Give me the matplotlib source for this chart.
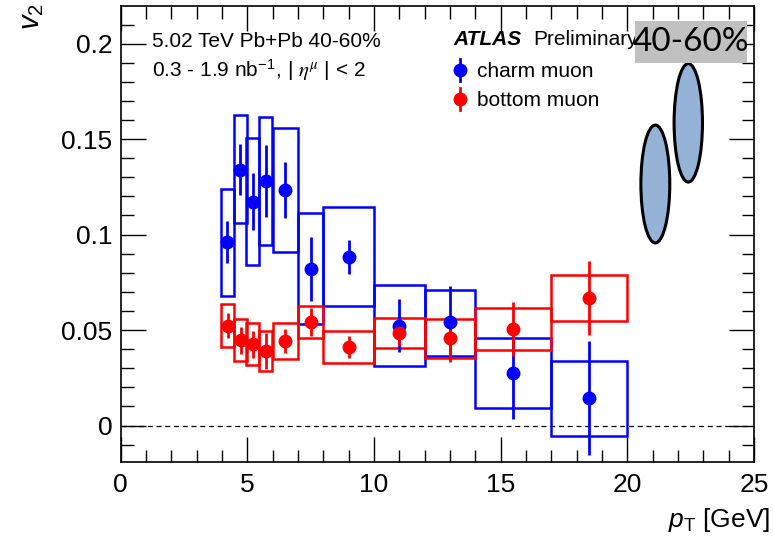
import matplotlib
matplotlib.use("Agg")
import matplotlib.pyplot as plt
from matplotlib.patches import Rectangle, Ellipse
from matplotlib.ticker import MultipleLocator

plt.rcParams['font.family'] = ['Liberation Sans', 'DejaVu Sans']
plt.rcParams['mathtext.fontset'] = 'custom'
plt.rcParams['mathtext.rm'] = 'Liberation Sans'
plt.rcParams['mathtext.it'] = 'Liberation Sans:italic'

# pT bins (box edges) and bin centres
bin_lo = [3.95, 4.47, 4.97, 5.47, 6.0, 7.0, 8.0, 10.0, 12.0, 14.0, 17.0]
bin_hi = [4.47, 4.99, 5.48, 5.98, 7.0, 8.0, 10.0, 12.0, 14.0, 17.0, 20.0]
pt_charm = [4.22, 4.73, 5.23, 5.73, 6.5, 7.5, 9.0, 11.0, 13.0, 15.5, 18.5]
pt_bottom = [4.25, 4.74, 5.24, 5.74, 6.5, 7.5, 9.0, 11.0, 13.0, 15.5, 18.5]

# charm muon v2, stat error, systematic box low/high
v2_charm = [0.0959, 0.134, 0.1172, 0.128, 0.1233, 0.0821, 0.0884, 0.0523, 0.054, 0.0275, 0.0144]
stat_charm = [0.011, 0.0135, 0.015, 0.019, 0.0145, 0.0167, 0.009, 0.014, 0.019, 0.024, 0.030]
sys_lo_charm = [0.068, 0.106, 0.0842, 0.0947, 0.0907, 0.053, 0.0626, 0.031, 0.0363, 0.0093, -0.0053]
sys_hi_charm = [0.1237, 0.1626, 0.1505, 0.1614, 0.1558, 0.1114, 0.1142, 0.0735, 0.0712, 0.046, 0.0338]

# bottom muon v2
v2_bottom = [0.0523, 0.0447, 0.0426, 0.0391, 0.0444, 0.054, 0.0412, 0.0486, 0.0456, 0.0504, 0.0667]
stat_bottom = [0.0066, 0.007, 0.007, 0.0095, 0.0062, 0.0073, 0.0056, 0.007, 0.0125, 0.0142, 0.0195]
sys_lo_bottom = [0.0412, 0.0337, 0.0316, 0.0286, 0.0346, 0.0456, 0.0328, 0.0404, 0.0356, 0.0395, 0.0547]
sys_hi_bottom = [0.0635, 0.0556, 0.0535, 0.0495, 0.0539, 0.0626, 0.0496, 0.0565, 0.0556, 0.0614, 0.0791]

# ellipses in the corner (centre x, centre y, width, height)
ell_x = [21.1, 22.4]
ell_y = [0.1265, 0.1585]
ell_w = [1.14, 1.12]
ell_h = [0.0617, 0.062]

fig = plt.figure(figsize=(7.74, 5.44), dpi=100)
ax = fig.add_axes([0.1557, 0.151, 0.8187, 0.838])
ax.set_xlim(0, 25)
ax.set_ylim(-0.019, 0.2197)

ax.axhline(0, color='black', lw=0.9, ls=(0, (4, 3)))

def draw_series(pt, v2, stat, lo, hi, color):
    for xl, xh, yl, yh in zip(bin_lo, bin_hi, lo, hi):
        ax.add_patch(Rectangle((xl, yl), xh - xl, yh - yl, fill=False,
                               edgecolor=color, lw=1.8, zorder=3))
    ax.errorbar(pt, v2, yerr=stat, fmt='o', color=color, ms=9, elinewidth=2,
                capsize=0, zorder=4)

draw_series(pt_charm, v2_charm, stat_charm, sys_lo_charm, sys_hi_charm, '#0000ff')
draw_series(pt_bottom, v2_bottom, stat_bottom, sys_lo_bottom, sys_hi_bottom, '#ff0000')

for x, y, w, h in zip(ell_x, ell_y, ell_w, ell_h):
    ax.add_patch(Ellipse((x, y), w, h, facecolor='#94b3d7', edgecolor='black', lw=2.2, zorder=5))

ax.xaxis.set_major_locator(MultipleLocator(5))
ax.xaxis.set_minor_locator(MultipleLocator(1))
ax.yaxis.set_major_locator(MultipleLocator(0.05))
ax.yaxis.set_minor_locator(MultipleLocator(0.01))
ax.tick_params(which='both', direction='in', top=True, right=True, labelsize=19, width=1)
ax.tick_params(which='major', length=18)
ax.tick_params(which='minor', length=9)
ax.tick_params(axis='x', which='major', pad=8)
ax.tick_params(axis='y', which='major', pad=6)
ax.set_yticks([0, 0.05, 0.1, 0.15, 0.2])
ax.set_yticklabels(['0', '0.05', '0.1', '0.15', '0.2'])
for s in ax.spines.values():
    s.set_linewidth(1.2)

# axis titles
fig.text(32 / 774, 1 - 3 / 544, r'$v_{\mathregular{2}}$', rotation=90, ha='center', va='top', fontsize=21)
fig.text(770 / 774, 1 - 527 / 544, r'$p_{\mathregular{T}}$ [GeV]', ha='right', va='baseline', fontsize=19)

# annotations
fig.text(152 / 774, 1 - 47 / 544, '5.02 TeV Pb+Pb 40-60%', fontsize=15, va='baseline')
fig.text(152 / 774, 1 - 77 / 544, r'0.3 - 1.9 nb$^{\mathregular{-1}}$, | $\eta^{\mu}$ | < 2',
         fontsize=15, va='baseline', math_fontfamily='stix')
fig.text(453 / 774, 1 - 45 / 544, 'ATLAS', fontsize=15, fontweight='bold', style='italic', va='baseline')
fig.text(533 / 774, 1 - 45 / 544, 'Preliminary', fontsize=15, va='baseline')

# legend
leg_y = [70, 99]
leg_base = [76.7, 106]
leg_lab = ['charm muon', 'bottom muon']
leg_col = ['#0000ff', '#ff0000']
for y, yb, lab, c in zip(leg_y, leg_base, leg_lab, leg_col):
    fy = 1 - y / 544
    fig.add_artist(plt.Line2D([460 / 774, 460 / 774], [fy - 11 / 544, fy + 11 / 544], color=c, lw=2,
                              transform=fig.transFigure))
    fig.add_artist(plt.Line2D([460 / 774], [fy], marker='o', color=c, ms=9, transform=fig.transFigure))
    fig.text(477 / 774, 1 - yb / 544, lab, fontsize=15, va='baseline')

# centrality tag
fig.patches.append(Rectangle((635 / 774, 1 - 63.3 / 544), 111.7 / 774, 42.6 / 544,
                             transform=fig.transFigure, facecolor='#c0c0c0', edgecolor='none', zorder=6))
fig.text(690.5 / 774, 1 - 42 / 544, '40-60%', fontsize=24, ha='center', va='center',
         family=['Lato', 'DejaVu Sans'], zorder=7)

fig.savefig('out.png', dpi=100)
